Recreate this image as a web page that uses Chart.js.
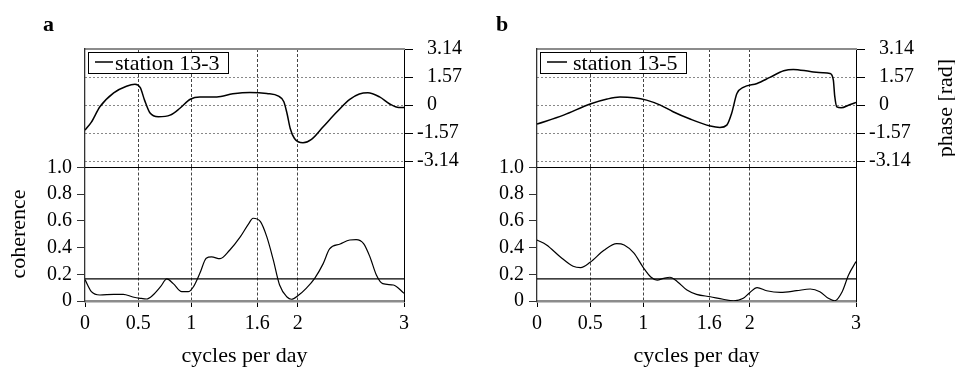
<!DOCTYPE html>
<html>
<head>
<meta charset="utf-8">
<script src="https://cdn.jsdelivr.net/npm/chart.js@4.4.1/dist/chart.umd.min.js"></script>
<style>
  html, body { margin: 0; padding: 0; background: #fff; }
  body { width: 955px; height: 369px; position: relative; overflow: hidden; }
  .box { position: absolute; }
</style>
</head>
<body>
<div class="box" style="left:0;top:0;width:480px;height:185px"><canvas id="phaseA"></canvas></div>
<div class="box" style="left:452px;top:0;width:503px;height:185px"><canvas id="phaseB"></canvas></div>
<div class="box" style="left:0;top:150px;width:480px;height:219px"><canvas id="cohA"></canvas></div>
<div class="box" style="left:452px;top:150px;width:503px;height:219px"><canvas id="cohB"></canvas></div>
<script>
// axis ticks
const freqTicks = [0, 0.5, 1, 1.62, 2, 3];
const freqTickLabels = ['0', '0.5', '1', '1.6', '2', '3'];
const phaseTicks = [-3.14, -1.57, 0, 1.57, 3.14];
const phaseTickLabels = ['-3.14', '-1.57', '0', '1.57', '3.14'];
const cohTicks = [0, 0.2, 0.4, 0.6, 0.8, 1.0];
const cohTickLabels = ['0', '0.2', '0.4', '0.6', '0.8', '1.0'];

// station 13-3
const freqPhaseA = [0, 0.06, 0.14, 0.27, 0.39, 0.47, 0.52, 0.56, 0.61, 0.69, 0.80, 0.89, 0.99, 1.08, 1.24, 1.39, 1.55, 1.71, 1.82, 1.87, 1.90, 1.93, 1.97, 2.05, 2.13, 2.24, 2.37, 2.49, 2.58, 2.66, 2.77, 2.87, 2.95, 3.0];
const phaseA = [-1.40, -0.95, -0.09, 0.69, 1.06, 1.17, 0.98, 0.28, -0.43, -0.65, -0.56, -0.19, 0.33, 0.46, 0.46, 0.63, 0.71, 0.65, 0.50, 0.19, -0.47, -1.31, -1.87, -2.11, -1.92, -1.21, -0.37, 0.32, 0.62, 0.69, 0.46, 0.05, -0.13, -0.13];
const freqCohA = [0, 0.06, 0.14, 0.27, 0.36, 0.45, 0.52, 0.58, 0.64, 0.71, 0.77, 0.83, 0.91, 0.97, 1.02, 1.08, 1.14, 1.19, 1.27, 1.36, 1.46, 1.54, 1.58, 1.65, 1.71, 1.77, 1.83, 1.90, 1.94, 2.01, 2.08, 2.16, 2.24, 2.30, 2.40, 2.49, 2.55, 2.62, 2.68, 2.74, 2.80, 2.90, 3.0];
const cohA = [0.16, 0.07, 0.045, 0.05, 0.05, 0.03, 0.02, 0.015, 0.045, 0.107, 0.165, 0.13, 0.07, 0.07, 0.107, 0.207, 0.32, 0.33, 0.317, 0.38, 0.48, 0.58, 0.62, 0.594, 0.48, 0.31, 0.12, 0.03, 0.013, 0.045, 0.095, 0.17, 0.28, 0.39, 0.427, 0.457, 0.46, 0.43, 0.33, 0.195, 0.13, 0.12, 0.058];
const sigA = 0.165;

// station 13-5
const freqPhaseB = [0, 0.25, 0.50, 0.66, 0.78, 0.91, 1.03, 1.16, 1.28, 1.44, 1.63, 1.72, 1.785, 1.83, 1.88, 1.94, 2.07, 2.19, 2.32, 2.41, 2.57, 2.69, 2.755, 2.787, 2.80, 2.82, 2.86, 2.94, 3.0];
const phaseB = [-1.06, -0.56, 0.06, 0.34, 0.45, 0.41, 0.28, 0, -0.37, -0.78, -1.17, -1.25, -1.12, -0.47, 0.65, 0.99, 1.21, 1.55, 1.92, 2.0, 1.88, 1.81, 1.77, 1.40, 0.5, -0.1, -0.15, 0.02, 0.15];
const freqCohB = [0, 0.09, 0.22, 0.34, 0.41, 0.50, 0.63, 0.75, 0.82, 0.91, 1.00, 1.07, 1.13, 1.19, 1.25, 1.32, 1.41, 1.50, 1.63, 1.75, 1.85, 1.94, 2.0, 2.07, 2.16, 2.29, 2.44, 2.57, 2.66, 2.74, 2.80, 2.87, 2.93, 3.0];
const cohB = [0.457, 0.42, 0.33, 0.26, 0.25, 0.29, 0.38, 0.43, 0.42, 0.36, 0.25, 0.18, 0.157, 0.17, 0.178, 0.145, 0.082, 0.05, 0.032, 0.013, 0.002, 0.02, 0.062, 0.1, 0.077, 0.065, 0.077, 0.09, 0.07, 0.02, 0.002, 0.07, 0.195, 0.295];
const sigB = 0.165;

const SERIF = "'Liberation Serif', 'Times New Roman', serif";
Chart.defaults.font.family = SERIF;
Chart.defaults.font.size = 20;
Chart.defaults.color = '#000';
Chart.defaults.animation = false;
Chart.defaults.plugins.legend.display = false;
Chart.defaults.plugins.tooltip.enabled = false;

function points(xs, ys) {
    return xs.map((x, i) => ({ x: x, y: ys[i] }));
}

// fixed axis size, so the padding alone places the plot area
function fixSize(n) {
    return scale => {
        if (scale.isHorizontal()) scale.height = n; else scale.width = n;
        scale.paddingLeft = scale.paddingRight = scale.paddingTop = scale.paddingBottom = 0;
    };
}

function setTicks(values) {
    return scale => { scale.ticks = values.map(v => ({ value: v })); };
}

// bare axis that only draws one side of the frame
function edge(position, color, width) {
    return {
        type: 'linear', position: position, min: 0, max: 1,
        ticks: { display: false },
        grid: { display: false },
        border: { display: true, color: color, width: width },
        afterFit: fixSize(0)
    };
}

function textPlugin(items) {
    return {
        id: 'figureText',
        afterDraw(chart) {
            const ctx = chart.ctx;
            items.forEach(t => {
                ctx.save();
                ctx.font = t.font || '22px ' + SERIF;
                ctx.fillStyle = '#000';
                ctx.textAlign = t.align || 'left';
                ctx.textBaseline = 'alphabetic';
                ctx.translate(t.x, t.y);
                if (t.rotate) ctx.rotate(t.rotate);
                ctx.fillText(t.text, 0, 0);
                ctx.restore();
            });
        }
    };
}

// framed legend in the upper left corner of the plot
function legendPlugin(lineLen, gap) {
    return {
        id: 'boxedLegend',
        afterDatasetsDraw(chart) {
            const { ctx, chartArea } = chart;
            const ds = chart.data.datasets[0];
            ctx.save();
            ctx.font = '22px ' + SERIF;
            const x = Math.round(chartArea.left + 3), y = Math.round(chartArea.top + 3);
            const w = Math.round(7 + lineLen + gap + ctx.measureText(ds.label).width + 9);
            const h = 21;
            ctx.fillStyle = '#fff';
            ctx.fillRect(x, y, w, h);
            ctx.strokeStyle = '#000';
            ctx.lineWidth = 1;
            ctx.strokeRect(x + 0.5, y + 0.5, w, h);
            ctx.lineWidth = ds.borderWidth;
            ctx.beginPath();
            ctx.moveTo(x + 7, y + 10);
            ctx.lineTo(x + 7 + lineLen, y + 10);
            ctx.stroke();
            ctx.fillStyle = '#000';
            ctx.fillText(ds.label, x + 7 + lineLen + gap, y + 18);
            ctx.restore();
        }
    };
}

function phaseChart(id, label, xs, ys, padding, legend, texts) {
    return new Chart(document.getElementById(id), {
        type: 'line',
        data: {
            datasets: [{
                label: label,
                data: points(xs, ys),
                borderColor: '#000',
                borderWidth: 1.5,
                pointRadius: 0,
                cubicInterpolationMode: 'monotone',
                xAxisID: 'x',
                yAxisID: 'y'
            }]
        },
        options: {
            responsive: true,
            maintainAspectRatio: false,
            events: [],
            layout: { padding: padding },
            scales: {
                x: {
                    type: 'linear', position: 'bottom', min: 0, max: 3,
                    afterBuildTicks: s => { s.ticks = freqTicks.filter(v => v > 0 && v < 3).map(v => ({ value: v })); },
                    ticks: { display: false },
                    grid: { color: '#444', drawTicks: false },
                    border: { display: false, dash: [3, 2] },
                    afterFit: fixSize(0)
                },
                y: {
                    type: 'linear', position: 'right',
                    // a little room below -3.14 before the coherence panel starts
                    min: -3.49, max: 3.14,
                    afterBuildTicks: setTicks(phaseTicks),
                    ticks: {
                        padding: 4,
                        autoSkip: false,
                        callback: (v, i) => (phaseTicks[i] >= 0 ? '\u2007' : '') + phaseTickLabels[i]
                    },
                    grid: { color: '#888', tickColor: '#000', tickLength: 9 },
                    border: { color: '#000', width: 1, dash: [2, 2] },
                    afterFit: fixSize(70)
                },
                top: edge('top', '#8c8c8c', 2),
                left: edge('left', '#333', 1.3)
            }
        },
        plugins: [legendPlugin(legend[0], legend[1]), textPlugin(texts)]
    });
}

function coherenceChart(id, xs, ys, sig, padding, texts) {
    return new Chart(document.getElementById(id), {
        type: 'line',
        data: {
            datasets: [{
                label: 'coherence',
                data: points(xs, ys),
                borderColor: '#000',
                borderWidth: 1.2,
                pointRadius: 0,
                cubicInterpolationMode: 'monotone',
                xAxisID: 'x',
                yAxisID: 'y'
            }, {
                label: 'significance level',
                data: [{ x: 0, y: sig }, { x: 3, y: sig }],
                borderColor: '#000',
                borderWidth: 1.2,
                pointRadius: 0,
                xAxisID: 'x',
                yAxisID: 'y'
            }]
        },
        options: {
            responsive: true,
            maintainAspectRatio: false,
            events: [],
            layout: { padding: padding },
            scales: {
                x: {
                    type: 'linear', position: 'bottom', min: 0, max: 3,
                    afterBuildTicks: setTicks(freqTicks),
                    ticks: { padding: 5, maxRotation: 0, autoSkip: false, callback: (v, i) => freqTickLabels[i] },
                    grid: {
                        color: c => (c.tick && c.tick.value > 0 && c.tick.value < 3) ? '#444' : 'rgba(0,0,0,0)',
                        tickColor: '#000',
                        tickLength: 6
                    },
                    border: { color: '#8c8c8c', width: 2.5, dash: [3, 2] },
                    afterFit: fixSize(40)
                },
                y: {
                    type: 'linear', position: 'left', min: 0, max: 1,
                    afterBuildTicks: setTicks(cohTicks),
                    ticks: { padding: 5, autoSkip: false, callback: (v, i) => cohTickLabels[i] },
                    grid: { drawOnChartArea: false, tickColor: '#333', tickLength: 8 },
                    border: { color: '#333', width: 1.3 },
                    afterFit: fixSize(85)
                },
                top: edge('top', '#000', 1),
                right: edge('right', '#000', 1)
            }
        },
        plugins: [textPlugin(texts)]
    });
}

const BOLD = 'bold 22px ' + SERIF;

phaseChart('phaseA', 'station 13-3', freqPhaseA, phaseA,
    { left: 85, top: 49, right: 6, bottom: 17.5 }, [18, 2],
    [{ text: 'a', x: 43, y: 31, font: BOLD }]);

phaseChart('phaseB', 'station 13-5', freqPhaseB, phaseB,
    { left: 85, top: 49, right: 29, bottom: 17.5 }, [20, 6],
    [{ text: 'b', x: 44, y: 31, font: BOLD },
     { text: 'phase [rad]', x: 500, y: 108, rotate: -Math.PI / 2, align: 'center' }]);

coherenceChart('cohA', freqCohA, cohA, sigA,
    { left: 0, top: 17.5, right: 76, bottom: 28 },
    [{ text: 'coherence', x: 25, y: 84, rotate: -Math.PI / 2, align: 'center' },
     { text: 'cycles per day', x: 244.5, y: 212, align: 'center' }]);

coherenceChart('cohB', freqCohB, cohB, sigB,
    { left: 0, top: 17.5, right: 99, bottom: 28 },
    [{ text: 'cycles per day', x: 244.5, y: 212, align: 'center' }]);
</script>
</body>
</html>
